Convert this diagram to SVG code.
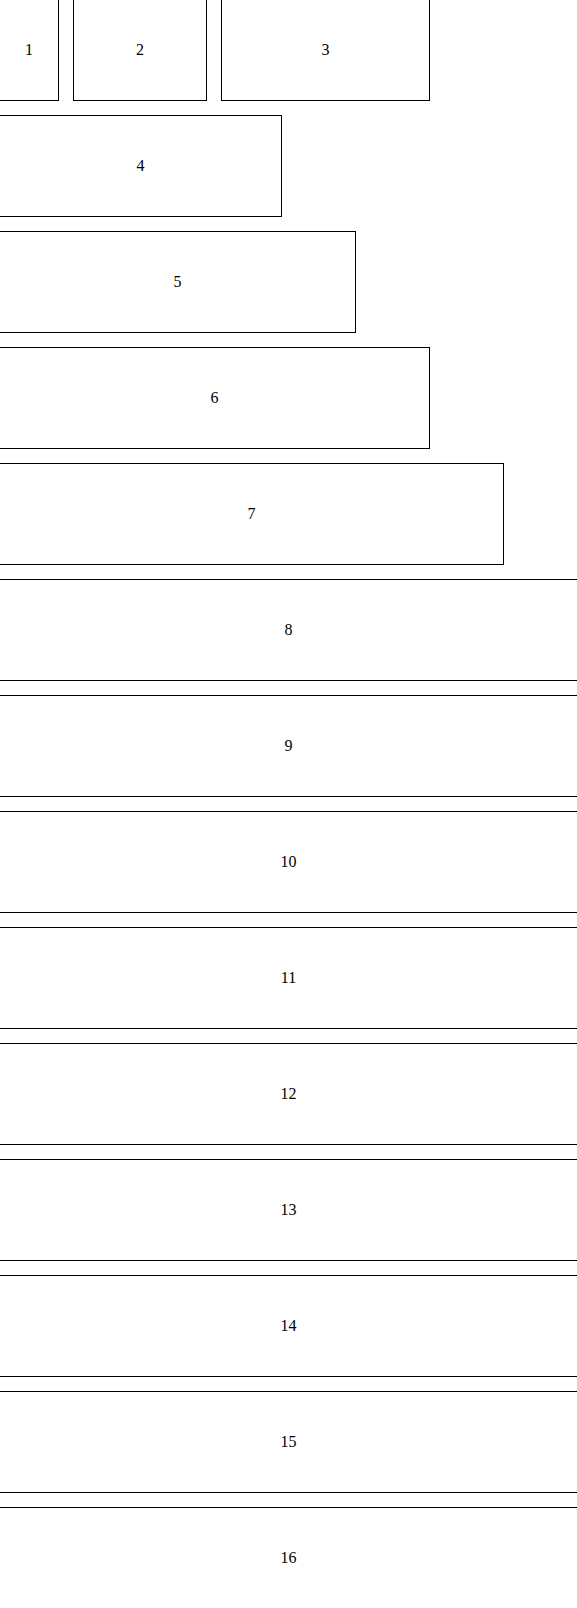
<svg xmlns="http://www.w3.org/2000/svg" width="577" height="1608" viewBox="0 0 577 1608">
<style>
.box{fill:#fff;stroke:#000;stroke-width:1}
.lbl{font-family:"Liberation Serif","Times New Roman",serif;font-size:16px;fill:#000;text-anchor:middle}
</style>
<rect x="0" y="0" width="577" height="1608" fill="#fff"/>
<g id="connectors"/>
<g id="n1"><rect class="box" x="-0.5" y="-0.5" width="59" height="101"/><text class="lbl" x="29" y="55">1</text></g>
<g id="n2"><rect class="box" x="73.5" y="-0.5" width="133" height="101"/><text class="lbl" x="140" y="55">2</text></g>
<g id="n3"><rect class="box" x="221.5" y="-0.5" width="208" height="101"/><text class="lbl" x="325.5" y="55">3</text></g>
<g id="n4"><rect class="box" x="-0.5" y="115.5" width="282" height="101"/><text class="lbl" x="140.5" y="171">4</text></g>
<g id="n5"><rect class="box" x="-0.5" y="231.5" width="356" height="101"/><text class="lbl" x="177.5" y="287">5</text></g>
<g id="n6"><rect class="box" x="-0.5" y="347.5" width="430" height="101"/><text class="lbl" x="214.5" y="403">6</text></g>
<g id="n7"><rect class="box" x="-0.5" y="463.5" width="504" height="101"/><text class="lbl" x="251.5" y="519">7</text></g>
<g id="n8"><rect class="box" x="-0.5" y="579.5" width="578" height="101"/><text class="lbl" x="288.5" y="635">8</text></g>
<g id="n9"><rect class="box" x="-0.5" y="695.5" width="578" height="101"/><text class="lbl" x="288.5" y="751">9</text></g>
<g id="n10"><rect class="box" x="-0.5" y="811.5" width="578" height="101"/><text class="lbl" x="288.5" y="867">10</text></g>
<g id="n11"><rect class="box" x="-0.5" y="927.5" width="578" height="101"/><text class="lbl" x="288.5" y="983">11</text></g>
<g id="n12"><rect class="box" x="-0.5" y="1043.5" width="578" height="101"/><text class="lbl" x="288.5" y="1099">12</text></g>
<g id="n13"><rect class="box" x="-0.5" y="1159.5" width="578" height="101"/><text class="lbl" x="288.5" y="1215">13</text></g>
<g id="n14"><rect class="box" x="-0.5" y="1275.5" width="578" height="101"/><text class="lbl" x="288.5" y="1331">14</text></g>
<g id="n15"><rect class="box" x="-0.5" y="1391.5" width="578" height="101"/><text class="lbl" x="288.5" y="1447">15</text></g>
<g id="n16"><rect class="box" x="-0.5" y="1507.5" width="578" height="101"/><text class="lbl" x="288.5" y="1563">16</text></g>
</svg>
